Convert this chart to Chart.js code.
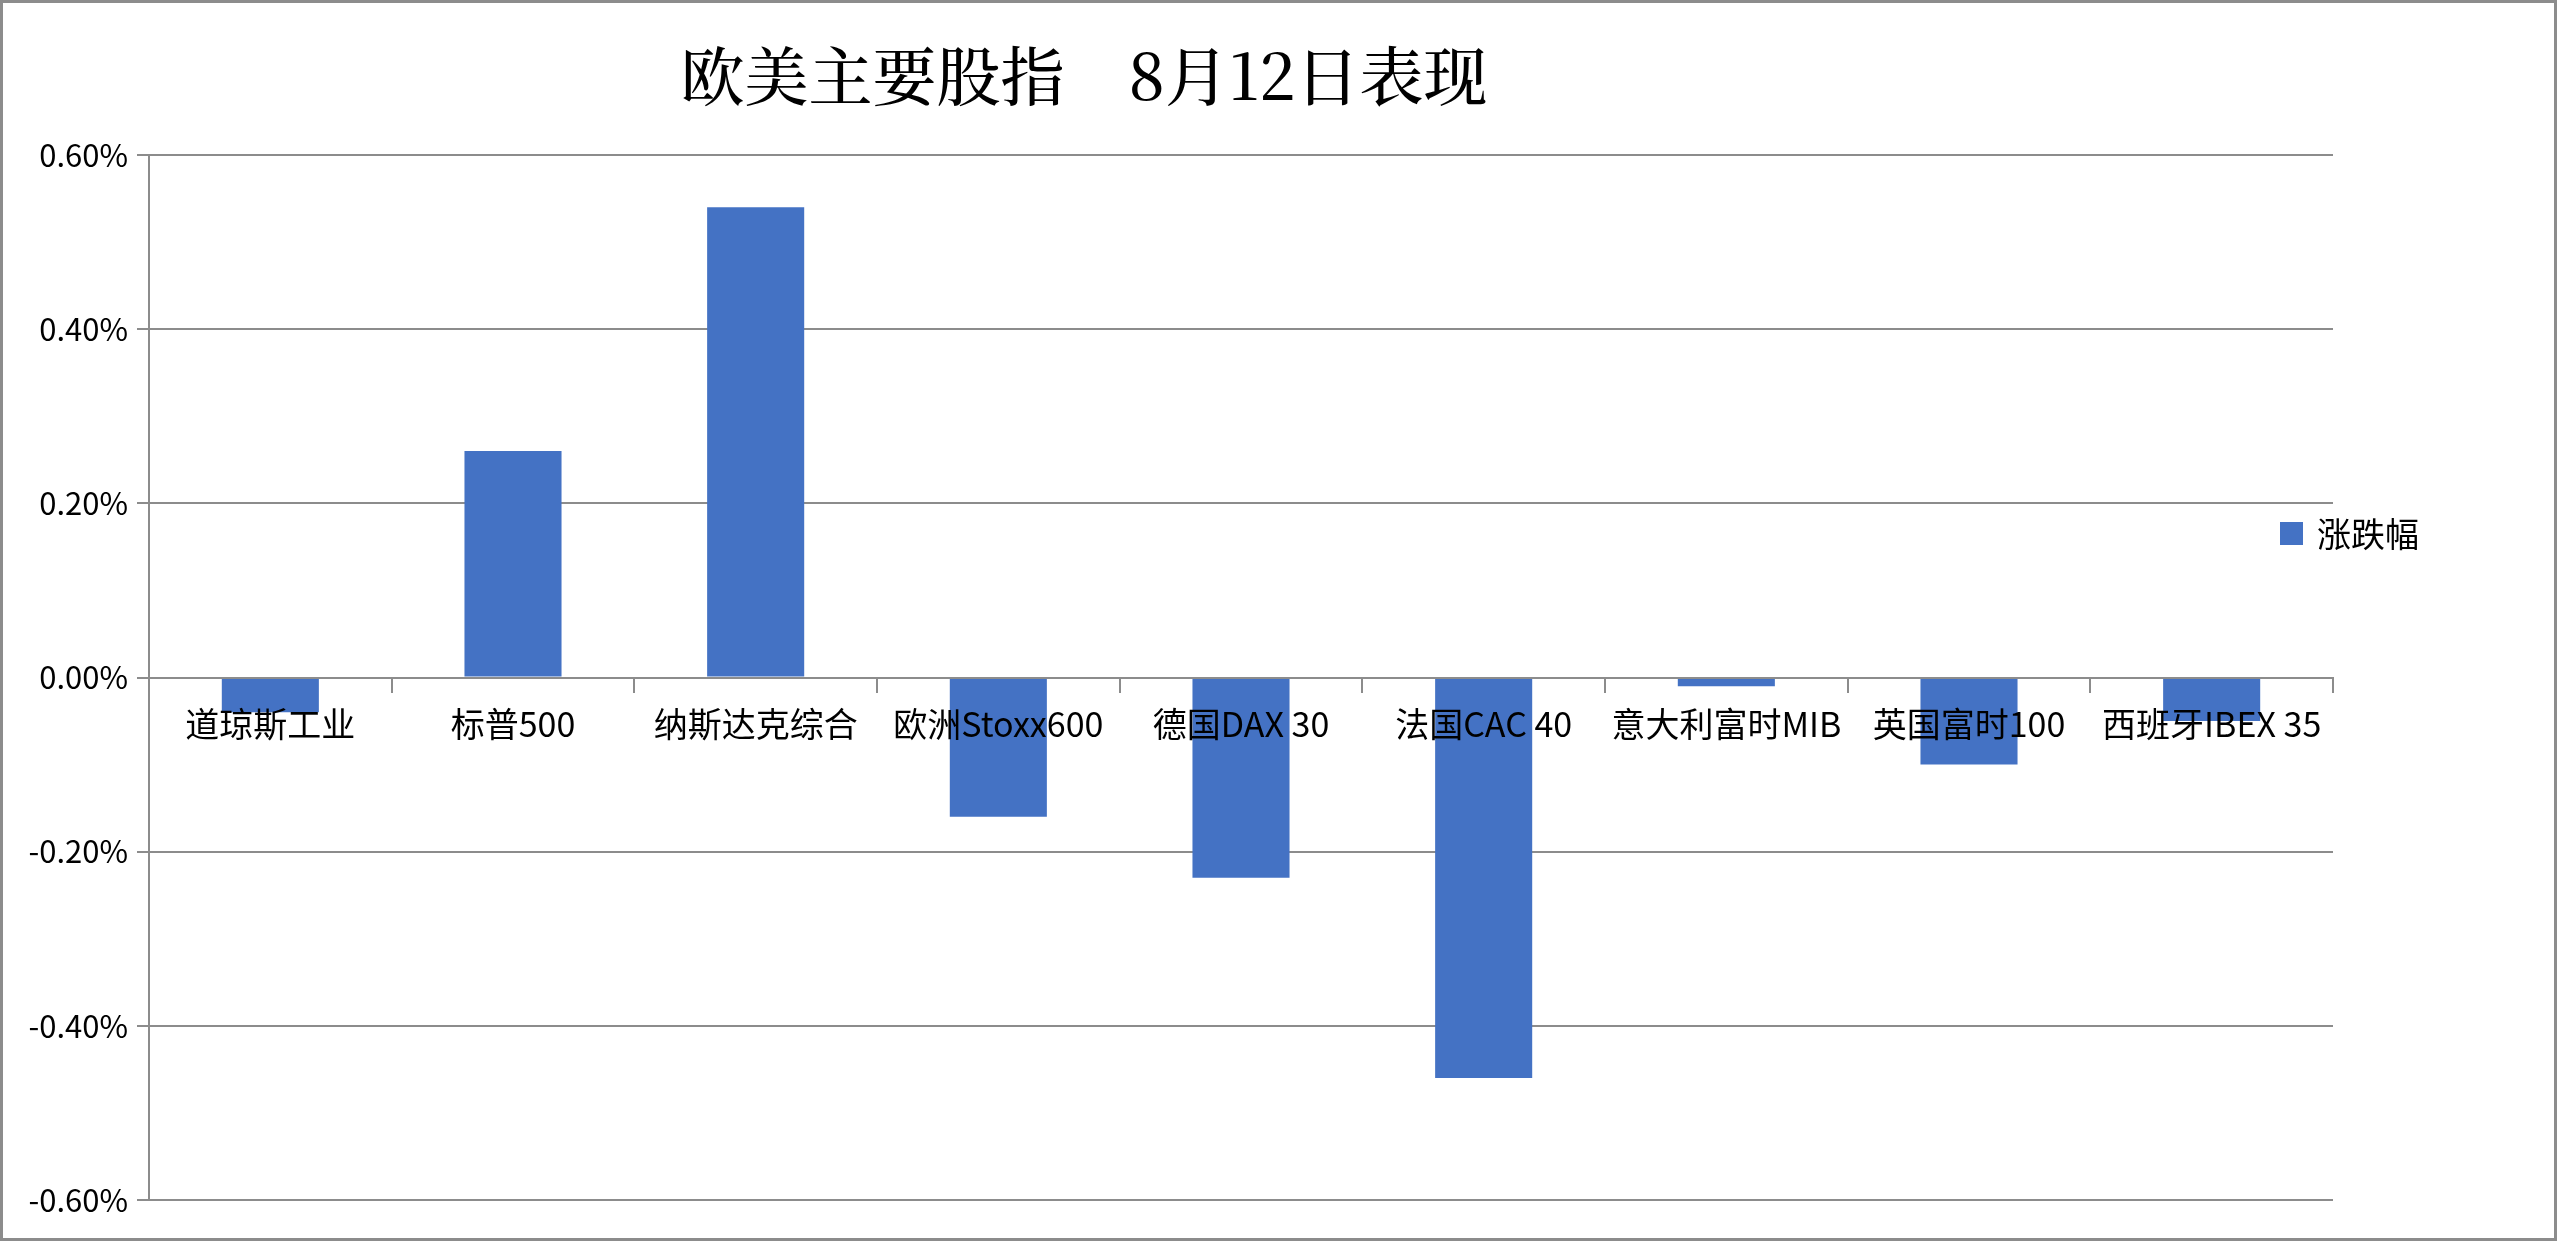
<!DOCTYPE html>
<html lang="zh-CN">
<head>
    <meta charset="UTF-8">
    <title>欧美主要股指 8月12日表现</title>
    <style>
        body {
            margin: 0;
            background-color: white;
        }
        canvas {
            display: block;
        }
    </style>
    <script src="https://cdn.jsdelivr.net/npm/chart.js@4"></script>
</head>
<body>
    <canvas id="indexChart" width="2560" height="1242"></canvas>

    <script>
        const chartTitle = '欧美主要股指\u30008月12日表现';
        const seriesName = '涨跌幅';
        const indexNames = ['道琼斯工业', '标普500', '纳斯达克综合', '欧洲Stoxx600', '德国DAX 30',
                            '法国CAC 40', '意大利富时MIB', '英国富时100', '西班牙IBEX 35'];
        const changePct = [-0.04, 0.26, 0.54, -0.16, -0.23, -0.46, -0.01, -0.10, -0.05];
        const yMin = -0.6;
        const yMax = 0.6;
        const yStep = 0.2;

        const BAR_BLUE = '#4472C4';
        const GRID_GREY = '#8c8c8c';
        const CJK = '"Noto Sans CJK SC", "Noto Sans", sans-serif';

        // frame, title and legend are drawn by hand so they can sit where Excel put them
        const decorations = {
            id: 'decorations',
            beforeDraw(chart) {
                const ctx = chart.ctx;
                ctx.save();
                ctx.fillStyle = 'white';
                ctx.fillRect(0, 0, chart.width, chart.height);
                ctx.restore();
            },
            afterDraw(chart) {
                const ctx = chart.ctx;
                ctx.save();
                ctx.strokeStyle = GRID_GREY;
                ctx.lineWidth = 3;
                ctx.strokeRect(1.5, 1.5, chart.width - 6, chart.height - 4);

                ctx.fillStyle = '#000';
                ctx.font = '500 64px "Noto Serif CJK SC", "Liberation Serif", "Noto Sans CJK SC", serif';
                ctx.textAlign = 'center';
                ctx.textBaseline = 'middle';
                ctx.fillText(chartTitle, 1084, 76);

                const ds = chart.data.datasets[0];
                ctx.fillStyle = ds.backgroundColor;
                ctx.fillRect(2280, 522, 23, 23);
                ctx.fillStyle = '#000';
                ctx.font = '34px ' + CJK;
                ctx.textAlign = 'left';
                ctx.fillText(ds.label, 2317, 534);
                ctx.restore();
            }
        };

        window.onload = function() {
            const ctx = document.getElementById('indexChart').getContext('2d');
            new Chart(ctx, {
                type: 'bar',
                data: {
                    labels: indexNames,
                    datasets: [{
                        label: seriesName,
                        data: changePct,
                        backgroundColor: BAR_BLUE,
                        borderWidth: 0,
                        categoryPercentage: 1,
                        barPercentage: 0.4
                    }]
                },
                options: {
                    responsive: false,
                    devicePixelRatio: 1,
                    animation: false,
                    layout: {
                        padding: { left: 0, right: 227, top: 155, bottom: 42 }
                    },
                    scales: {
                        x: {
                            position: { y: 0 },
                            offset: true,
                            grid: {
                                offset: true,
                                drawOnChartArea: false,
                                drawTicks: true,
                                tickLength: 14,
                                tickColor: GRID_GREY,
                                lineWidth: 2,
                                z: 1
                            },
                            border: { display: true, color: GRID_GREY, width: 2, z: 1 },
                            ticks: {
                                z: 1,
                                autoSkip: false,
                                maxRotation: 0,
                                padding: 12,
                                color: '#000',
                                font: { family: CJK, size: 34 }
                            },
                            afterFit(scale) { scale.height = 0; }
                        },
                        y: {
                            min: yMin,
                            max: yMax,
                            grid: {
                                color: GRID_GREY,
                                lineWidth: 2,
                                tickLength: 12
                            },
                            border: { display: true, color: GRID_GREY, width: 2 },
                            ticks: {
                                stepSize: yStep,
                                padding: 9,
                                color: '#000',
                                font: { family: CJK, size: 31 },
                                callback: v => (Math.round(v * 100) / 100).toFixed(2) + '%'
                            },
                            afterFit(scale) { scale.width = 149; }
                        }
                    },
                    plugins: {
                        legend: { display: false },
                        title: { display: false },
                        tooltip: { enabled: false }
                    }
                },
                plugins: [decorations]
            });
        };
    </script>
</body>
</html>
